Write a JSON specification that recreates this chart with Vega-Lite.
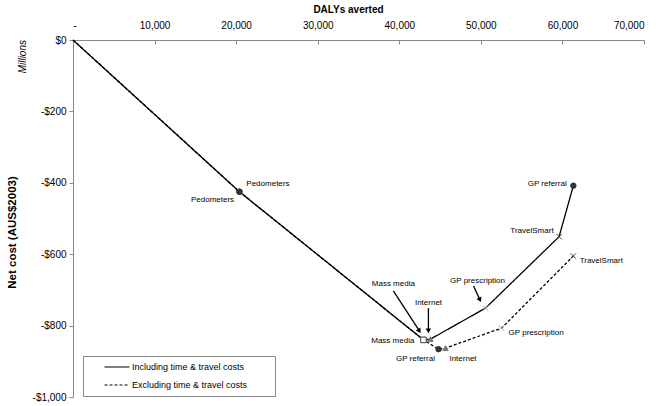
{
  "$schema": "https://vega.github.io/schema/vega-lite/v6.json",
  "width": 571,
  "height": 357,
  "autosize": {"type": "none"},
  "padding": {"left": 73, "top": 40, "right": 18, "bottom": 9},
  "background": "white",
  "config": {
    "view": {"stroke": null},
    "font": "Liberation Sans",
    "text": {"font": "Liberation Sans"}
  },
  "title": {
    "text": "Millions",
    "orient": "left",
    "anchor": "end",
    "dx": -36,
    "fontSize": 10,
    "fontStyle": "italic",
    "fontWeight": "normal",
    "color": "black",
    "offset": -22
  },
  "datasets": {
    "points": [
      {"series": "Including time & travel costs", "step": 0, "intervention": "Origin", "dalys": 0, "cost": 0},
      {"series": "Including time & travel costs", "step": 1, "intervention": "Pedometers", "dalys": 20400, "cost": -425},
      {"series": "Including time & travel costs", "step": 2, "intervention": "Mass media", "dalys": 42957, "cost": -840},
      {"series": "Including time & travel costs", "step": 3, "intervention": "Internet", "dalys": 43810, "cost": -838},
      {"series": "Including time & travel costs", "step": 4, "intervention": "GP prescription", "dalys": 50570, "cost": -751},
      {"series": "Including time & travel costs", "step": 5, "intervention": "TravelSmart", "dalys": 59590, "cost": -551},
      {"series": "Including time & travel costs", "step": 6, "intervention": "GP referral", "dalys": 61340, "cost": -408},
      {"series": "Excluding time & travel costs", "step": 0, "intervention": "Origin", "dalys": 0, "cost": 0},
      {"series": "Excluding time & travel costs", "step": 1, "intervention": "Pedometers", "dalys": 20400, "cost": -425},
      {"series": "Excluding time & travel costs", "step": 2, "intervention": "Mass media", "dalys": 42957, "cost": -840},
      {"series": "Excluding time & travel costs", "step": 3, "intervention": "GP referral", "dalys": 44810, "cost": -866},
      {"series": "Excluding time & travel costs", "step": 4, "intervention": "Internet", "dalys": 45670, "cost": -863},
      {"series": "Excluding time & travel costs", "step": 5, "intervention": "GP prescription", "dalys": 52540, "cost": -807},
      {"series": "Excluding time & travel costs", "step": 6, "intervention": "TravelSmart", "dalys": 61340, "cost": -605}
    ],
    "labelsLeft": [
      {"text": "Pedometers", "dalys": 21250, "cost": -403},
      {"text": "Internet", "dalys": 46150, "cost": -894},
      {"text": "GP prescription", "dalys": 53400, "cost": -821},
      {"text": "TravelSmart", "dalys": 62110, "cost": -619}
    ],
    "labelsCenter": [
      {"text": "Mass media", "dalys": 39270, "cost": -683},
      {"text": "Internet", "dalys": 43580, "cost": -737},
      {"text": "GP prescription", "dalys": 49590, "cost": -675},
      {"text": "GP referral", "dalys": 41980, "cost": -894}
    ],
    "labelsRight": [
      {"text": "Pedometers", "dalys": 19750, "cost": -448},
      {"text": "Mass media", "dalys": 41850, "cost": -843},
      {"text": "TravelSmart", "dalys": 58920, "cost": -535},
      {"text": "GP referral", "dalys": 60520, "cost": -403}
    ],
    "arrows": [
      {"label": "Mass media", "dalys": 39270, "cost": -703, "dalys2": 42466, "cost2": -815},
      {"label": "Internet", "dalys": 43570, "cost": -751, "dalys2": 43570, "cost2": -815},
      {"label": "GP prescription", "dalys": 49100, "cost": -689, "dalys2": 49890, "cost2": -728}
    ]
  },
  "encoding": {
    "x": {
      "field": "dalys",
      "type": "quantitative",
      "scale": {"domain": [0, 70000], "nice": false, "zero": false},
      "axis": {
        "orient": "top",
        "values": [0, 10000, 20000, 30000, 40000, 50000, 60000, 70000],
        "labelExpr": "datum.value == 0 ? '-\u00a0\u00a0' : format(datum.value, ',')",
        "labelFontSize": 10,
        "labelColor": "black",
        "labelPadding": 14,
        "tickSize": -4,
        "tickColor": "#888",
        "domainColor": "#888",
        "grid": false,
        "title": "DALYs averted",
        "titleFontSize": 10,
        "titleFontWeight": "bold",
        "titleColor": "black",
        "titlePadding": 6,
        "titleX": 275
      }
    },
    "y": {
      "field": "cost",
      "type": "quantitative",
      "scale": {"domain": [-1000, 0], "nice": false, "zero": false},
      "axis": {
        "values": [-1000, -800, -600, -400, -200, 0],
        "labelExpr": "datum.value < 0 ? '-$' + format(-datum.value, ',') : '$0'",
        "labelFontSize": 10,
        "labelColor": "black",
        "labelPadding": 3,
        "tickSize": 4,
        "tickColor": "#888",
        "domainColor": "#888",
        "grid": false,
        "title": "Net cost (AUS$2003)",
        "titleFontSize": 11.5,
        "titleFontWeight": "bold",
        "titleColor": "black",
        "titleX": -61,
        "titleY": 192,
        "titleBaseline": "middle",
        "titleAlign": "center",
        "titleAngle": -90
      }
    }
  },
  "layer": [
    {
      "data": {"name": "points"},
      "mark": {"type": "line", "color": "black", "strokeWidth": 1.3},
      "encoding": {
        "order": {"field": "step", "type": "quantitative"},
        "strokeDash": {
          "field": "series",
          "type": "nominal",
          "scale": {"domain": ["Including time & travel costs", "Excluding time & travel costs"], "range": [[1, 0], [3, 2]]},
          "legend": {
            "orient": "none",
            "legendX": 10,
            "legendY": 316,
            "title": null,
            "symbolType": "M-3,0H3M36,0",
            "symbolSize": 69,
            "symbolStrokeWidth": 1.2,
            "symbolStrokeColor": "black",
            "symbolFillColor": "transparent",
            "symbolOffset": 23,
            "labelOffset": 10,
            "labelFontSize": 9,
            "labelColor": "black",
            "rowPadding": 8,
            "padding": 6,
            "strokeColor": "#888",
            "fillColor": "white"
          }
        }
      }
    },
    {
      "data": {"name": "arrows"},
      "mark": {"type": "rule", "color": "black", "strokeWidth": 1.3},
      "encoding": {
        "x2": {"field": "dalys2"},
        "y2": {"field": "cost2"}
      }
    },
    {
      "data": {"name": "points"},
      "transform": [{"filter": "datum.intervention != 'Origin'"}],
      "mark": {"type": "point", "filled": true, "strokeWidth": 1, "opacity": 1, "size": 30},
      "encoding": {
        "shape": {
          "field": "intervention", "type": "nominal",
          "scale": {"domain": ["Pedometers", "Mass media", "Internet", "GP prescription", "TravelSmart", "GP referral"],
                    "range": ["circle", "square", "triangle-up", "M-1,-1L1,1M-1,1L1,-1", "M-1,-1L1,1M-1,1L1,-1", "circle"]},
          "legend": null
        },
        "fill": {
          "field": "intervention", "type": "nominal",
          "scale": {"domain": ["Pedometers", "Mass media", "Internet", "GP prescription", "TravelSmart", "GP referral"],
                    "range": ["#333333", "#ffffff", "#777777", "#aaaaaa", "#444444", "#333333"]},
          "legend": null
        },
        "stroke": {
          "field": "intervention", "type": "nominal",
          "scale": {"domain": ["Pedometers", "Mass media", "Internet", "GP prescription", "TravelSmart", "GP referral"],
                    "range": ["#333333", "#555555", "#777777", "#aaaaaa", "#444444", "#333333"]},
          "legend": null
        }
      }
    },
    {
      "data": {"name": "arrows"},
      "transform": [{"filter": "datum.label == 'Mass media'"}],
      "mark": {"type": "point", "shape": "triangle-down", "filled": true, "color": "black", "size": 30, "angle": -33, "opacity": 1},
      "encoding": {"x": {"field": "dalys2", "type": "quantitative"}, "y": {"field": "cost2", "type": "quantitative"}}
    },
    {
      "data": {"name": "arrows"},
      "transform": [{"filter": "datum.label == 'Internet'"}],
      "mark": {"type": "point", "shape": "triangle-down", "filled": true, "color": "black", "size": 30, "angle": 0, "opacity": 1},
      "encoding": {"x": {"field": "dalys2", "type": "quantitative"}, "y": {"field": "cost2", "type": "quantitative"}}
    },
    {
      "data": {"name": "arrows"},
      "transform": [{"filter": "datum.label == 'GP prescription'"}],
      "mark": {"type": "point", "shape": "triangle-down", "filled": true, "color": "black", "size": 30, "angle": -25, "opacity": 1},
      "encoding": {"x": {"field": "dalys2", "type": "quantitative"}, "y": {"field": "cost2", "type": "quantitative"}}
    },
    {
      "data": {"name": "labelsLeft"},
      "mark": {"type": "text", "align": "left", "baseline": "middle", "fontSize": 8, "color": "black"},
      "encoding": {"text": {"field": "text"}}
    },
    {
      "data": {"name": "labelsCenter"},
      "mark": {"type": "text", "align": "center", "baseline": "middle", "fontSize": 8, "color": "black"},
      "encoding": {"text": {"field": "text"}}
    },
    {
      "data": {"name": "labelsRight"},
      "mark": {"type": "text", "align": "right", "baseline": "middle", "fontSize": 8, "color": "black"},
      "encoding": {"text": {"field": "text"}}
    }
  ]
}
